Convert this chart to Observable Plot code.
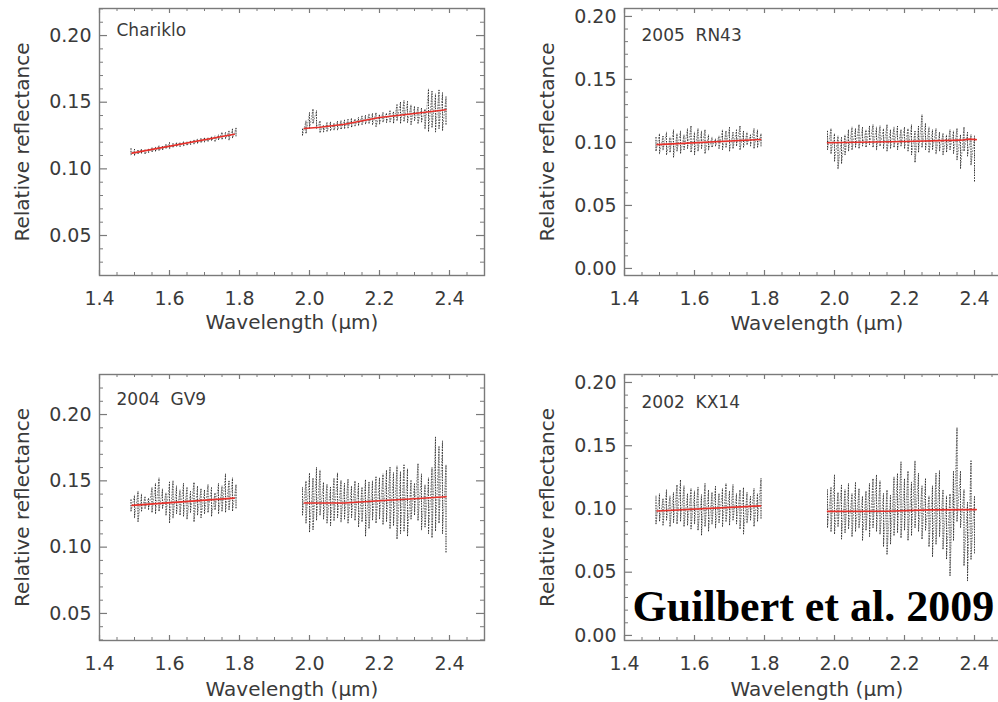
<!DOCTYPE html>
<html><head><meta charset="utf-8">
<script src="https://cdn.jsdelivr.net/npm/d3@7"></script>
<script src="https://cdn.jsdelivr.net/npm/@observablehq/plot@0.6"></script>
<style>
html,body{margin:0;padding:0;background:#fff;overflow:hidden;}
#fig{position:relative;width:998px;height:702px;overflow:hidden;background:#fff;}
.panel{position:absolute;}
</style></head><body><div id="fig"></div>
<script>
// wavelength grids (µm)
const wl1 = [1.49,1.50,1.51,1.52,1.53,1.54,1.55,1.56,1.57,1.58,1.59,1.60,1.61,1.62,1.63,1.64,1.65,1.66,1.67,1.68,1.69,1.70,1.71,1.72,1.73,1.74,1.75,1.76,1.77,1.78,1.79];
const wl2 = [1.98,1.99,2.00,2.01,2.02,2.03,2.04,2.05,2.06,2.07,2.08,2.09,2.10,2.11,2.12,2.13,2.14,2.15,2.16,2.17,2.18,2.19,2.20,2.21,2.22,2.23,2.24,2.25,2.26,2.27,2.28,2.29,2.30,2.31,2.32,2.33,2.34,2.35,2.36,2.37,2.38,2.39,2.40];

// Chariklo
const chHi1 = [0.1150,0.1145,0.1140,0.1150,0.1145,0.1150,0.1160,0.1165,0.1175,0.1170,0.1185,0.1195,0.1190,0.1195,0.1200,0.1205,0.1200,0.1210,0.1215,0.1225,0.1230,0.1235,0.1230,0.1240,0.1245,0.1255,0.1275,0.1270,0.1285,0.1300,0.1305];
const chLo1 = [0.1105,0.1100,0.1110,0.1115,0.1110,0.1120,0.1125,0.1130,0.1135,0.1140,0.1150,0.1150,0.1160,0.1165,0.1165,0.1170,0.1175,0.1180,0.1185,0.1190,0.1195,0.1200,0.1205,0.1210,0.1205,0.1215,0.1220,0.1225,0.1215,0.1230,0.1240];
const chHi2 = [0.1300,0.1360,0.1420,0.1450,0.1435,0.1360,0.1330,0.1345,0.1350,0.1340,0.1355,0.1360,0.1365,0.1370,0.1380,0.1375,0.1385,0.1395,0.1400,0.1410,0.1415,0.1420,0.1410,0.1425,0.1420,0.1435,0.1430,0.1480,0.1500,0.1510,0.1505,0.1480,0.1470,0.1460,0.1455,0.1450,0.1600,0.1580,0.1560,0.1590,0.1570,0.1540];
const chLo2 = [0.1250,0.1265,0.1300,0.1340,0.1300,0.1270,0.1275,0.1280,0.1285,0.1290,0.1290,0.1295,0.1300,0.1305,0.1310,0.1320,0.1325,0.1330,0.1335,0.1340,0.1330,0.1315,0.1335,0.1350,0.1345,0.1350,0.1340,0.1360,0.1340,0.1355,0.1345,0.1330,0.1360,0.1340,0.1350,0.1300,0.1280,0.1310,0.1275,0.1300,0.1285,0.1330];
const chFit1 = [[1.493,0.1118],[1.785,0.1260]];
const chFit2 = [[1.985,0.1303],[2.03,0.1312],[2.10,0.1335],[2.20,0.1385],[2.30,0.1415],[2.39,0.1443]];

// 2005 RN43
const rnHi1 = [0.104,0.107,0.105,0.108,0.104,0.110,0.107,0.109,0.106,0.111,0.113,0.108,0.111,0.109,0.110,0.106,0.104,0.103,0.105,0.110,0.109,0.112,0.108,0.110,0.113,0.109,0.108,0.106,0.111,0.110,0.107];
const rnLo1 = [0.093,0.091,0.094,0.090,0.092,0.088,0.093,0.091,0.094,0.095,0.092,0.090,0.093,0.095,0.091,0.094,0.096,0.097,0.095,0.094,0.096,0.093,0.095,0.097,0.094,0.096,0.098,0.097,0.095,0.096,0.097];
const rnHi2 = [0.109,0.111,0.107,0.105,0.104,0.106,0.110,0.112,0.111,0.114,0.112,0.110,0.113,0.114,0.112,0.113,0.111,0.114,0.110,0.112,0.113,0.110,0.112,0.111,0.114,0.109,0.113,0.122,0.115,0.112,0.110,0.111,0.108,0.107,0.106,0.110,0.109,0.111,0.106,0.112,0.108,0.106,0.105];
const rnLo2 = [0.094,0.091,0.085,0.079,0.083,0.090,0.093,0.094,0.096,0.095,0.097,0.096,0.098,0.096,0.094,0.097,0.095,0.093,0.095,0.096,0.094,0.097,0.095,0.093,0.090,0.084,0.092,0.096,0.094,0.092,0.094,0.091,0.093,0.090,0.092,0.094,0.091,0.086,0.079,0.093,0.089,0.082,0.069];
const rnFit1 = [[1.493,0.0983],[1.789,0.1023]];
const rnFit2 = [[1.98,0.0998],[2.20,0.1008],[2.36,0.1018],[2.385,0.1026],[2.405,0.1022]];

// 2004 GV9
const gvHi1 = [0.136,0.139,0.142,0.140,0.138,0.137,0.145,0.148,0.152,0.144,0.141,0.149,0.150,0.146,0.143,0.148,0.145,0.142,0.149,0.146,0.144,0.143,0.147,0.145,0.141,0.148,0.146,0.155,0.150,0.152,0.147];
const gvLo1 = [0.127,0.122,0.119,0.127,0.129,0.128,0.126,0.125,0.127,0.129,0.124,0.118,0.122,0.125,0.124,0.123,0.121,0.126,0.119,0.124,0.122,0.125,0.126,0.123,0.128,0.125,0.127,0.126,0.128,0.127,0.129];
const gvHi2 = [0.145,0.150,0.156,0.152,0.160,0.158,0.149,0.147,0.145,0.152,0.156,0.150,0.148,0.151,0.146,0.150,0.148,0.145,0.151,0.149,0.150,0.153,0.152,0.155,0.158,0.160,0.156,0.161,0.157,0.162,0.159,0.150,0.148,0.163,0.155,0.147,0.152,0.160,0.183,0.176,0.180,0.162];
const gvLo2 = [0.124,0.118,0.111,0.113,0.120,0.124,0.121,0.118,0.116,0.120,0.122,0.119,0.121,0.118,0.122,0.120,0.115,0.119,0.108,0.114,0.120,0.118,0.121,0.117,0.119,0.114,0.116,0.106,0.110,0.112,0.108,0.121,0.124,0.120,0.113,0.115,0.110,0.107,0.112,0.118,0.110,0.096];
const gvFit1 = [[1.493,0.1315],[1.785,0.1370]];
const gvFit2 = [[1.985,0.1333],[2.10,0.1333],[2.20,0.1350],[2.30,0.1365],[2.39,0.1380]];

// 2002 KX14
const kxHi1 = [0.110,0.112,0.108,0.115,0.110,0.113,0.119,0.123,0.118,0.112,0.116,0.114,0.117,0.111,0.120,0.115,0.113,0.118,0.112,0.116,0.120,0.114,0.119,0.112,0.115,0.117,0.113,0.110,0.116,0.112,0.124];
const kxLo1 = [0.088,0.090,0.087,0.091,0.086,0.089,0.088,0.090,0.086,0.087,0.084,0.088,0.083,0.079,0.086,0.082,0.088,0.085,0.089,0.086,0.090,0.087,0.091,0.088,0.084,0.080,0.089,0.091,0.086,0.090,0.092];
const kxHi2 = [0.115,0.117,0.127,0.113,0.119,0.115,0.120,0.112,0.121,0.116,0.110,0.114,0.120,0.124,0.127,0.122,0.112,0.115,0.111,0.125,0.128,0.137,0.124,0.130,0.121,0.138,0.128,0.118,0.124,0.110,0.118,0.128,0.130,0.115,0.110,0.112,0.130,0.164,0.130,0.115,0.105,0.138,0.110];
const kxLo2 = [0.085,0.082,0.080,0.086,0.076,0.081,0.084,0.078,0.082,0.085,0.075,0.083,0.078,0.085,0.082,0.080,0.070,0.064,0.072,0.079,0.081,0.077,0.083,0.075,0.079,0.085,0.082,0.076,0.083,0.070,0.062,0.072,0.078,0.068,0.060,0.047,0.075,0.090,0.085,0.055,0.043,0.060,0.065];
const kxFit1 = [[1.493,0.0984],[1.789,0.1024]];
const kxFit2 = [[1.98,0.0981],[2.15,0.0982],[2.27,0.0993],[2.405,0.0995]];

// ticks and labels
const xMajor = [1.4,1.6,1.8,2.0,2.2,2.4];
const xMinor = [1.45,1.5,1.55,1.65,1.7,1.75,1.85,1.9,1.95,2.05,2.1,2.15,2.25,2.3,2.35,2.45];
const yMajorA = [0.05,0.10,0.15,0.20];
const yMinorA = [0.03,0.04,0.06,0.07,0.08,0.09,0.11,0.12,0.13,0.14,0.16,0.17,0.18,0.19,0.21,0.22];
const yMajorB = [0.00,0.05,0.10,0.15,0.20];
const yMinorB = [0.01,0.02,0.03,0.04,0.06,0.07,0.08,0.09,0.11,0.12,0.13,0.14,0.16,0.17,0.18,0.19];
const xLabel = "Wavelength (μm)";
const yLabel = "Relative reflectance";
const credit = "Guilbert et al. 2009";

const FRAME = "#7a7a7a", TXT = "#3a3a3a", FONT = "DejaVu Sans";

function zig(hi, lo, wl, seg) {
  const out = [];
  hi.forEach((h, i) => { out.push({w: wl[i], r: h, seg}, {w: wl[i], r: lo[i], seg}); });
  return out;
}
function bars(hi, lo, wl, seg) {
  return hi.map((h, i) => ({w: wl[i], hi: h, lo: lo[i], seg}));
}

function panel(o) {
  const H = o.height - o.mt - o.mb, W = o.width - o.ml - o.mr;
  const spec = [...zig(o.hi1, o.lo1, wl1, 1), ...zig(o.hi2, o.lo2, wl2, 2)];
  const spikes = [...bars(o.hi1, o.lo1, wl1, 1), ...bars(o.hi2, o.lo2, wl2, 2)];
  const fit = [...o.fit1.map(d => ({w: d[0], r: d[1], seg: 1})), ...o.fit2.map(d => ({w: d[0], r: d[1], seg: 2}))];
  const marks = [
    Plot.ruleX(spikes, {x: "w", y1: "lo", y2: "hi", stroke: "#111", strokeWidth: 1, strokeDasharray: "1,1.5", strokeOpacity: 0.85}),
    Plot.line(spec, {x: "w", y: "r", z: "seg", stroke: "#222", strokeWidth: 0.8, strokeDasharray: "1,2", strokeOpacity: 0.65}),
    Plot.line(fit, {x: "w", y: "r", z: "seg", stroke: "#e8302a", strokeWidth: 1.6}),
    Plot.frame({stroke: FRAME, strokeWidth: 1.4}),
    Plot.ruleX(xMajor, {stroke: FRAME, strokeWidth: 1.2, insetTop: H - 5}),
    Plot.ruleX(xMajor, {stroke: FRAME, strokeWidth: 1.2, insetBottom: H - 5}),
    Plot.ruleX(xMinor, {stroke: FRAME, strokeWidth: 1, insetTop: H - 3}),
    Plot.ruleX(xMinor, {stroke: FRAME, strokeWidth: 1, insetBottom: H - 3}),
    Plot.ruleY(o.yMaj, {stroke: FRAME, strokeWidth: 1.2, insetRight: W - 8}),
    Plot.ruleY(o.yMaj, {stroke: FRAME, strokeWidth: 1.2, insetLeft: W - 8}),
    Plot.ruleY(o.yMin, {stroke: FRAME, strokeWidth: 1, insetRight: W - 4}),
    Plot.ruleY(o.yMin, {stroke: FRAME, strokeWidth: 1, insetLeft: W - 4}),
    Plot.axisX({ticks: xMajor, anchor: "bottom", tickSize: 0, tickPadding: 16, tickFormat: d => d.toFixed(1), label: null, fontSize: 19}),
    Plot.axisY({ticks: o.yMaj, anchor: "left", tickSize: 0, tickPadding: 8, tickFormat: d => d.toFixed(2), label: null, fontSize: 19}),
    Plot.text([yLabel], {text: d => d, frameAnchor: "left", rotate: -90, dx: -77, textAnchor: "middle", lineAnchor: "middle", fontSize: 20, fill: TXT}),
    Plot.text([xLabel], {text: d => d, frameAnchor: "bottom", dy: o.xlDy, textAnchor: "middle", lineAnchor: "middle", fontSize: 20, fill: TXT}),
    Plot.text([o.name], {text: d => d, frameAnchor: "top-left", dx: 17, dy: o.nameDy, textAnchor: "start", lineAnchor: "top", fontSize: 17, fill: TXT})
  ];
  if (o.credit) marks.push(Plot.text([credit], {text: d => d, frameAnchor: "bottom-left", dx: 8, dy: -20, textAnchor: "start", lineAnchor: "bottom", fontSize: 44, fontWeight: "bold", fontFamily: "Liberation Serif", fill: "#000"}));
  const chart = Plot.plot({
    width: o.width, height: o.height,
    marginLeft: o.ml, marginRight: o.mr, marginTop: o.mt, marginBottom: o.mb,
    x: {domain: [1.4, 2.5]},
    y: {domain: o.ydom},
    style: {fontFamily: FONT, fontSize: "19px", color: TXT, background: "transparent", overflow: "visible"},
    marks
  });
  const div = document.createElement("div");
  div.className = "panel";
  div.style.left = o.left + "px"; div.style.top = o.top + "px"; div.style.width = o.width + "px";
  div.appendChild(chart);
  document.getElementById("fig").appendChild(div);
}

panel({left: 0, top: 0, width: 498, height: 350, ml: 99, mr: 14, mt: 8, mb: 75, ydom: [0.02, 0.2203], yMaj: yMajorA, yMin: yMinorA,
  name: "Chariklo", nameDy: 15, xlDy: 47, hi1: chHi1, lo1: chLo1, hi2: chHi2, lo2: chLo2, fit1: chFit1, fit2: chFit2});
panel({left: 498, top: 0, width: 520, height: 350, ml: 126, mr: 9, mt: 8, mb: 75, ydom: [-0.0056, 0.2063], yMaj: yMajorB, yMin: yMinorB,
  name: "2005  RN43", nameDy: 20, xlDy: 48, hi1: rnHi1, lo1: rnLo1, hi2: rnHi2, lo2: rnLo2, fit1: rnFit1, fit2: rnFit2});
panel({left: 0, top: 350, width: 498, height: 352, ml: 99, mr: 14, mt: 24, mb: 62, ydom: [0.0296, 0.2302], yMaj: yMajorA, yMin: yMinorA,
  name: "2004  GV9", nameDy: 18, xlDy: 49, hi1: gvHi1, lo1: gvLo1, hi2: gvHi2, lo2: gvLo2, fit1: gvFit1, fit2: gvFit2});
panel({left: 498, top: 350, width: 520, height: 352, ml: 126, mr: 9, mt: 24, mb: 62, ydom: [-0.004, 0.2063], yMaj: yMajorB, yMin: yMinorB,
  name: "2002  KX14", nameDy: 21, xlDy: 49, hi1: kxHi1, lo1: kxLo1, hi2: kxHi2, lo2: kxLo2, fit1: kxFit1, fit2: kxFit2, credit: true});
</script></body></html>
